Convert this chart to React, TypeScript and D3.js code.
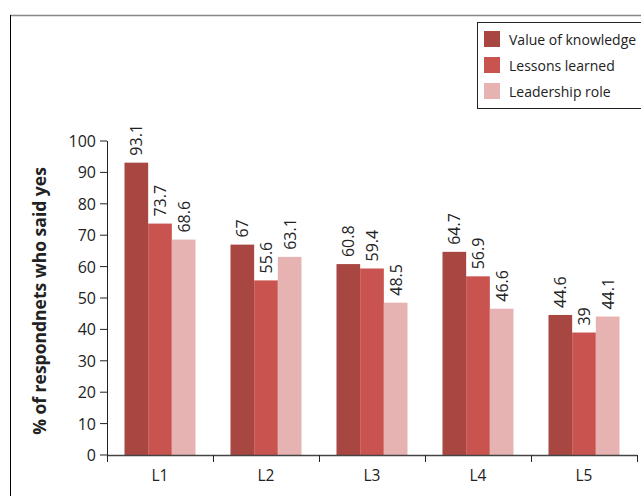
import React from "react"
import * as d3 from "d3"

// values
const categories = ["L1", "L2", "L3", "L4", "L5"]
const seriesNames = ["Value of knowledge", "Lessons learned", "Leadership role"]
const valueOfKnowledge = [93.1, 67, 60.8, 64.7, 44.6]
const lessonsLearned = [73.7, 55.6, 59.4, 56.9, 39]
const leadershipRole = [68.6, 63.1, 48.5, 46.6, 44.1]
const yTicks = [0, 10, 20, 30, 40, 50, 60, 70, 80, 90, 100]
const colors = ["#A84642", "#C9534F", "#E6B3B2"]

const W = 641, H = 496
const margin = { top: 141, right: 4, bottom: 41, left: 107 }
const font = "'Open Sans', 'Liberation Sans', sans-serif"

export default function App() {
  const series = [valueOfKnowledge, lessonsLearned, leadershipRole]
  const x = d3.scaleBand().domain(categories).range([margin.left, W - margin.right]).paddingInner(0.33).paddingOuter(0.165)
  const x1 = d3.scaleBand().domain(seriesNames).range([0, x.bandwidth()])
  const y = d3.scaleLinear().domain([0, 100]).range([H - margin.bottom, margin.top])
  const step = (W - margin.right - margin.left) / categories.length
  const y0 = y(0)

  return (
    <svg width={W} height={H} style={{ position: "absolute", left: 0, top: 0 }} fontFamily={font}>
      {/* outer frame */}
      <line x1={10} x2={W} y1={15.5} y2={15.5} stroke="#888" strokeWidth={1.5} />
      <line x1={10.5} x2={10.5} y1={15} y2={H} stroke="#000" strokeWidth={1} />

      {/* bars */}
      {categories.map((c, i) =>
        series.map((s, j) => {
          const bx = (x(c) as number) + (x1(seriesNames[j]) as number)
          const by = y(s[i])
          return (
            <g key={c + j}>
              <rect x={bx} y={by} width={x1.bandwidth()} height={y0 - by} fill={colors[j]} />
              <text transform={`translate(${bx + x1.bandwidth() / 2 + 6},${by - 7}) rotate(-90)`}
                fontSize={16} fill="#222">{s[i]}</text>
            </g>
          )
        })
      )}

      {/* y axis */}
      <line x1={margin.left + 0.5} x2={margin.left + 0.5} y1={margin.top} y2={y0} stroke="#222" />
      {yTicks.map(t => (
        <g key={t}>
          <line x1={margin.left - 7} x2={margin.left} y1={y(t)} y2={y(t)} stroke="#222" />
          <text x={margin.left - 11} y={y(t) + 6} textAnchor="end" fontSize={16} fill="#222">{t}</text>
        </g>
      ))}

      {/* x axis */}
      <line x1={margin.left} x2={W - margin.right} y1={y0 + 0.5} y2={y0 + 0.5} stroke="#444" strokeWidth={1.5} />
      {d3.range(categories.length + 1).map(i => (
        <line key={i} x1={margin.left + i * step + 0.5} x2={margin.left + i * step + 0.5} y1={y0} y2={y0 + 7} stroke="#222" />
      ))}
      {categories.map(c => (
        <text key={c} x={(x(c) as number) + x.bandwidth() / 2} y={y0 + 26} textAnchor="middle" fontSize={15.5} fill="#222">{c}</text>
      ))}

      <text transform={`translate(46,${(margin.top + y0) / 2 + 3}) rotate(-90)`} textAnchor="middle"
        fontSize={17.5} fontWeight="bold" fill="#222">% of respondnets who said yes</text>

      {/* legend */}
      <rect x={477.5} y={22.5} width={W} height={86} fill="#fff" stroke="#222" />
      {seriesNames.map((n, j) => (
        <g key={n}>
          <rect x={484} y={31 + j * 26} width={16} height={16} fill={colors[j]} />
          <text x={509} y={45 + j * 26} fontSize={14} fill="#222">{n}</text>
        </g>
      ))}
    </svg>
  )
}
